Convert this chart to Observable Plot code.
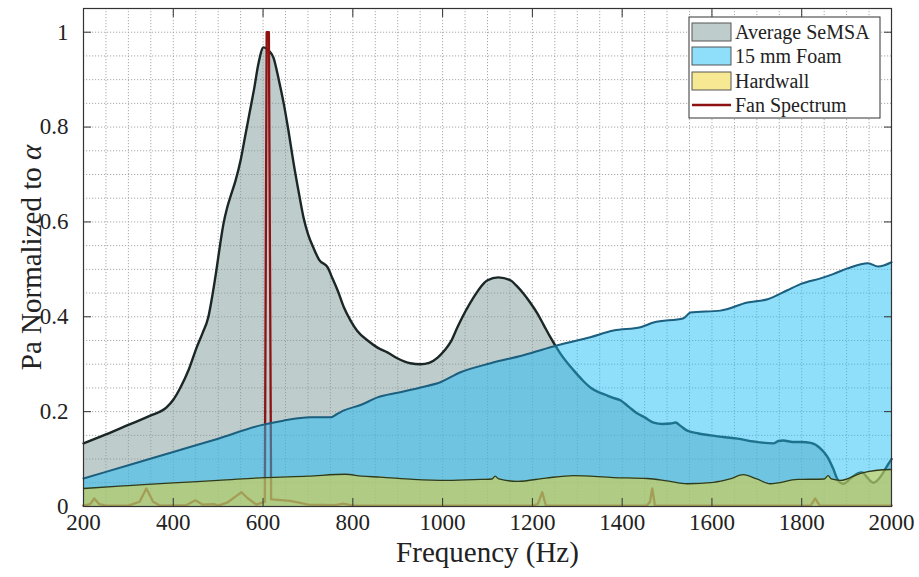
<!DOCTYPE html>
<html>
<head>
<meta charset="utf-8">
<script src="https://cdn.jsdelivr.net/npm/d3@7"></script>
<script src="https://cdn.jsdelivr.net/npm/@observablehq/plot@0.6"></script>
<style>
  html, body { margin: 0; padding: 0; background: #fff; }
</style>
</head>
<body>
<div id="chart"></div>
<script>
// ---- Data (frequency in Hz, value = Pa normalized to alpha) ----
const seriesNames = ["Average SeMSA", "15 mm Foam", "Hardwall", "Fan Spectrum"];

const semsa = [
  [200,0.133],[250,0.152],[300,0.172],[350,0.192],[385,0.209],[400,0.225],[416,0.251],
  [435,0.29],[452,0.335],[465,0.365],[478,0.399],[488,0.45],[496,0.498],[504,0.55],
  [512,0.597],[520,0.63],[527,0.652],[539,0.688],[550,0.73],[560,0.78],[570,0.83],
  [580,0.88],[590,0.935],[601,0.968],[612,0.962],[623,0.947],[635,0.9],[646,0.85],
  [657,0.79],[668,0.724],[680,0.66],[690,0.61],[700,0.575],[712,0.546],[725,0.52],
  [744,0.504],[755,0.48],[766,0.456],[780,0.42],[795,0.392],[810,0.37],[833,0.35],
  [855,0.335],[877,0.325],[900,0.312],[928,0.302],[951,0.300],[970,0.303],[989,0.314],
  [1005,0.33],[1018,0.347],[1033,0.378],[1050,0.41],[1069,0.441],[1085,0.463],
  [1100,0.477],[1124,0.483],[1151,0.477],[1165,0.465],[1180,0.449],[1195,0.43],
  [1211,0.407],[1225,0.383],[1240,0.357],[1262,0.323],[1292,0.287],[1310,0.268],
  [1329,0.251],[1350,0.24],[1367,0.234],[1380,0.229],[1396,0.224],[1415,0.21],
  [1434,0.196],[1450,0.188],[1470,0.177],[1490,0.174],[1508,0.175],[1519,0.177],
  [1530,0.17],[1545,0.16],[1570,0.154],[1597,0.15],[1630,0.146],[1657,0.143],
  [1693,0.137],[1737,0.133],[1748,0.138],[1759,0.139],[1780,0.136],[1800,0.136],
  [1820,0.134],[1842,0.122],[1857,0.105],[1870,0.08],[1881,0.055],[1893,0.048],
  [1910,0.06],[1925,0.07],[1935,0.072],[1945,0.062],[1960,0.05],[1975,0.062],
  [1990,0.085],[2000,0.1]
];

const foam = [
  [200,0.059],[300,0.087],[400,0.115],[500,0.143],[594,0.171],[645,0.181],[706,0.188],
  [750,0.188],[765,0.195],[779,0.202],[820,0.215],[855,0.23],[900,0.24],[951,0.251],
  [995,0.262],[1040,0.283],[1107,0.302],[1180,0.319],[1256,0.34],[1329,0.357],
  [1381,0.371],[1441,0.378],[1470,0.388],[1537,0.397],[1552,0.409],[1619,0.413],
  [1679,0.43],[1724,0.437],[1768,0.456],[1800,0.47],[1842,0.481],[1870,0.49],
  [1902,0.502],[1948,0.513],[1970,0.506],[2000,0.515]
];

const hardwall = [
  [200,0.038],[300,0.044],[400,0.05],[500,0.055],[605,0.061],[700,0.064],[783,0.068],
  [820,0.064],[861,0.062],[935,0.057],[1011,0.055],[1084,0.057],[1110,0.058],
  [1117,0.064],[1125,0.058],[1167,0.053],[1230,0.06],[1292,0.065],[1381,0.061],
  [1456,0.059],[1500,0.054],[1545,0.048],[1604,0.051],[1640,0.058],[1670,0.067],
  [1700,0.058],[1730,0.048],[1791,0.057],[1850,0.058],[1859,0.065],[1866,0.058],
  [1886,0.055],[1931,0.07],[1997,0.078],[2000,0.078]
];

const fan = [
  [200,0.002],[215,0.005],[224,0.017],[235,0.005],[250,0.002],[300,0.002],[325,0.01],
  [340,0.038],[355,0.01],[370,0.002],[430,0.003],[449,0.013],[465,0.004],[490,0.005],
  [500,0.002],[520,0.008],[540,0.022],[552,0.03],[565,0.018],[585,0.004],[604,0.01],
  [608,1.0],[613,1.0],[618,0.015],[660,0.012],[680,0.008],[700,0.004],[760,0.003],
  [779,0.006],[800,0.002],[1200,0.002],[1212,0.005],[1222,0.03],[1230,0.002],
  [1455,0.002],[1462,0.01],[1467,0.038],[1473,0.002],[1820,0.002],[1830,0.017],
  [1840,0.002],[2000,0.002]
];

const xTicks = [200,400,600,800,1000,1200,1400,1600,1800,2000];
const yTicks = [0,0.2,0.4,0.6,0.8,1];
const xGrid = d3.range(200, 2001, 50);
const yGrid = d3.range(0, 1.0501, 0.05);
const xLabel = "Frequency (Hz)";
const yLabel = "Pa Normalized to α";

// ---- Styles ----
const font = "Liberation Serif, DejaVu Serif, serif";
const fills = ["rgb(128,153,153)", "rgb(31,189,245)", "rgb(240,210,40)"];
const strokes = ["#1b2626", "#1d5f7e", "#2c3a1e", "#8e1212"];

const rows = arr => arr.map(([f, v]) => ({f, v}));

const chart = Plot.plot({
  width: 919,
  height: 577,
  marginLeft: 83,
  marginRight: 28,
  marginTop: 8,
  marginBottom: 71,
  style: {fontFamily: font, background: "#fff", color: "#222", overflow: "visible"},
  x: {domain: [200, 2000]},
  y: {domain: [0, 1.05]},
  marks: [
    Plot.ruleX(xGrid, {x: d => d, stroke: "#a8a8a8", strokeWidth: 1, strokeDasharray: "1.2,1.8"}),
    Plot.ruleY(yGrid, {y: d => d, stroke: "#a8a8a8", strokeWidth: 1, strokeDasharray: "1.2,1.8"}),
    Plot.areaY(rows(semsa), {x: "f", y: "v", fill: fills[0], fillOpacity: 0.5, curve: "monotone-x"}),
    Plot.lineY(rows(semsa), {x: "f", y: "v", stroke: strokes[0], strokeWidth: 2.4, curve: "monotone-x"}),
    Plot.lineY(rows(fan), {x: "f", y: "v", stroke: strokes[3], strokeWidth: 2.3}),
    Plot.areaY(rows(foam), {x: "f", y: "v", fill: fills[1], fillOpacity: 0.5, curve: "monotone-x"}),
    Plot.lineY(rows(foam), {x: "f", y: "v", stroke: strokes[1], strokeWidth: 2, curve: "monotone-x"}),
    Plot.areaY(rows(hardwall), {x: "f", y: "v", fill: fills[2], fillOpacity: 0.5, curve: "monotone-x"}),
    Plot.lineY(rows(hardwall), {x: "f", y: "v", stroke: strokes[2], strokeWidth: 1.3, curve: "monotone-x"}),
    Plot.frame({stroke: "#333", strokeWidth: 1.2}),
    Plot.axisX(xTicks, {anchor: "bottom", tickSize: -8, tickPadding: 15, fontSize: 23, label: null, stroke: "#333", fill: "#222", tickFormat: d => String(d)}),
    Plot.axisX(xTicks, {anchor: "top", tickSize: -8, tickFormat: () => "", label: null, stroke: "#333"}),
    Plot.axisY(yTicks, {anchor: "left", tickSize: -8, tickPadding: 23, fontSize: 23, label: null, stroke: "#333", fill: "#222", tickFormat: d => String(d)}),
    Plot.axisY(yTicks, {anchor: "right", tickSize: -8, tickFormat: () => "", label: null, stroke: "#333"}),
    Plot.text([xLabel], {text: d => d, frameAnchor: "bottom", textAnchor: "middle", dy: 55, fontSize: 29, fill: "#222"}),
    Plot.text([yLabel], {text: d => d, frameAnchor: "left", textAnchor: "middle", dx: -52, rotate: -90, fontSize: 29, fill: "#222"})
  ]
});

document.getElementById("chart").appendChild(chart);

const svg = d3.select(chart.tagName.toLowerCase() === "svg" ? chart : chart.querySelector("svg"));
svg.attr("font-family", font);

// italic alpha in y label
svg.selectAll("text").filter(function() { return this.textContent === yLabel; })
  .each(function() {
    const t = d3.select(this);
    t.text(yLabel.slice(0, -1));
    t.append("tspan").attr("font-style", "italic").text(yLabel.slice(-1));
  });

// legend (inside the plot, top right)
const lg = svg.append("g").attr("font-size", 20).attr("text-anchor", "start");
lg.append("rect").attr("x", 689).attr("y", 17).attr("width", 191).attr("height", 101)
  .attr("fill", "#fff").attr("stroke", "#333").attr("stroke-width", 1);
const rowY = [32, 56, 81, 105];
seriesNames.forEach((name, i) => {
  if (i < 3) {
    lg.append("rect").attr("x", 692).attr("y", rowY[i] - 9).attr("width", 39).attr("height", 18)
      .attr("fill", fills[i]).attr("fill-opacity", 0.5).attr("stroke", "#555").attr("stroke-width", 1);
  } else {
    lg.append("line").attr("x1", 692).attr("x2", 731).attr("y1", rowY[i]).attr("y2", rowY[i])
      .attr("stroke", strokes[3]).attr("stroke-width", 2.5);
  }
  lg.append("text").attr("x", 735).attr("y", rowY[i]).attr("dy", "0.35em")
    .attr("text-anchor", "start").attr("fill", "#222").text(name);
});

// make every text use the serif face inline
svg.selectAll("text").each(function() { this.style.fontFamily = font; });
</script>
</body>
</html>
